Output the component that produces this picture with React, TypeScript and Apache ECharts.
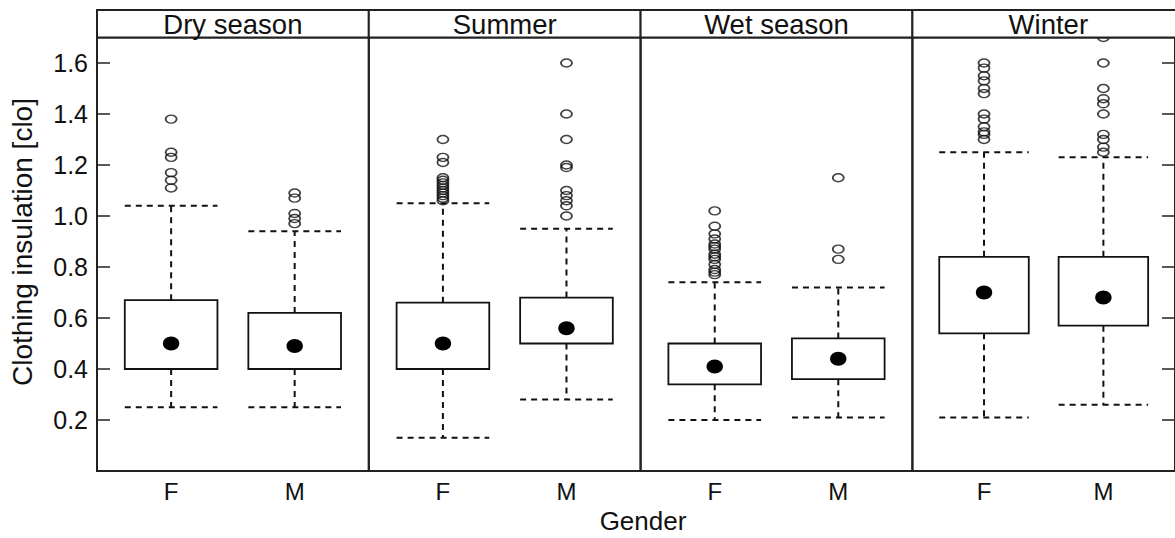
import React, { useEffect, useRef } from "react";
import * as echarts from "echarts";

// ---- data ----
const seasons = ["Dry season", "Summer", "Wet season", "Winter"];
const genders = ["F", "M"];
const yTickValues = [0.2, 0.4, 0.6, 0.8, 1.0, 1.2, 1.4, 1.6];

// per season: [F, M]
const whiskerLow = [[0.25, 0.25], [0.13, 0.28], [0.20, 0.21], [0.21, 0.26]];
const lowerQuartile = [[0.40, 0.40], [0.40, 0.50], [0.34, 0.36], [0.54, 0.57]];
const medians = [[0.50, 0.49], [0.50, 0.56], [0.41, 0.44], [0.70, 0.68]];
const upperQuartile = [[0.67, 0.62], [0.66, 0.68], [0.50, 0.52], [0.84, 0.84]];
const whiskerHigh = [[1.04, 0.94], [1.05, 0.95], [0.74, 0.72], [1.25, 1.23]];

const outliersDryF = [1.38, 1.25, 1.23, 1.17, 1.14, 1.11];
const outliersDryM = [1.09, 1.07, 1.01, 0.99, 0.97];
const outliersSummerF = [1.30, 1.23, 1.21, 1.15, 1.14, 1.13, 1.12, 1.11, 1.10, 1.09, 1.08, 1.07, 1.06];
const outliersSummerM = [1.60, 1.40, 1.30, 1.20, 1.19, 1.10, 1.08, 1.06, 1.04, 1.00];
const outliersWetF = [1.02, 0.96, 0.93, 0.91, 0.89, 0.88, 0.87, 0.85, 0.84, 0.83, 0.81, 0.79, 0.78, 0.77];
const outliersWetM = [1.15, 0.87, 0.83];
const outliersWinterF = [1.60, 1.58, 1.55, 1.53, 1.50, 1.48, 1.40, 1.38, 1.35, 1.33, 1.32, 1.30];
const outliersWinterM = [1.70, 1.60, 1.50, 1.46, 1.44, 1.40, 1.32, 1.30, 1.27, 1.25];
const outliers = [
  [outliersDryF, outliersDryM],
  [outliersSummerF, outliersSummerM],
  [outliersWetF, outliersWetM],
  [outliersWinterF, outliersWinterM],
];

// ---- layout ----
const W = 1175;
const H = 538;
const PANEL_LEFT = 97;
const PANEL_W = 271.8;
const STRIP_TOP = 10;
const PANEL_TOP = 37.5;
const PANEL_BOTTOM = 471;
const Y_MIN = 0;
const Y_MAX = 1.7;
const FONT = "'Liberation Sans', Arial, Helvetica, sans-serif";
const INK = "#111";
const BOX_WIDTH = 0.75; // in category units

export default function App() {
  const ref = useRef<HTMLDivElement>(null);

  useEffect(() => {
    if (!ref.current) return;
    const chart = echarts.init(ref.current, undefined, { renderer: "svg", width: W, height: H });

    const grids: any[] = [];
    const xAxes: any[] = [];
    const yAxes: any[] = [];
    const series: any[] = [];
    const graphics: any[] = [];

    seasons.forEach((season, p) => {
      const left = PANEL_LEFT + p * PANEL_W;
      grids.push({
        left,
        top: PANEL_TOP,
        width: PANEL_W,
        height: PANEL_BOTTOM - PANEL_TOP,
        show: true,
        borderColor: "#222",
        borderWidth: 2,
        backgroundColor: "transparent",
        containLabel: false,
      });
      xAxes.push({
        type: "value",
        gridIndex: p,
        min: 0.4,
        max: 2.6,
        axisLine: { show: false },
        axisTick: { show: false },
        splitLine: { show: false },
        axisLabel: {
          customValues: [1, 2],
          formatter: (v: number) => genders[Math.round(v) - 1] ?? "",
          fontSize: 24,
          fontFamily: FONT,
          color: INK,
          margin: 8,
        },
      });
      yAxes.push({
        type: "value",
        gridIndex: p,
        min: Y_MIN,
        max: Y_MAX,
        position: p === 3 ? "right" : "left",
        axisLine: { show: false },
        splitLine: { show: false },
        axisTick: {
          show: p === 0 || p === 3,
          inside: true,
          length: 13,
          customValues: yTickValues,
          lineStyle: { color: "#222", width: 1.5 },
        },
        axisLabel: {
          show: p === 0,
          customValues: yTickValues,
          formatter: (v: number) => v.toFixed(1),
          fontSize: 25,
          fontFamily: FONT,
          color: INK,
          margin: 9,
        },
      });

      const boxData = genders.map((g, gi) => [
        gi + 1,
        whiskerLow[p][gi],
        lowerQuartile[p][gi],
        medians[p][gi],
        upperQuartile[p][gi],
        whiskerHigh[p][gi],
      ]);

      series.push({
        type: "custom",
        xAxisIndex: p,
        yAxisIndex: p,
        data: boxData,
        encode: { x: 0, y: [1, 2, 3, 4, 5] },
        z: 3,
        renderItem: (params: any, api: any) => {
          const x = api.value(0);
          const lo = api.coord([x, api.value(1)]);
          const bq1 = api.coord([x, api.value(2)]);
          const med = api.coord([x, api.value(3)]);
          const bq3 = api.coord([x, api.value(4)]);
          const hi = api.coord([x, api.value(5)]);
          const bw = api.size([BOX_WIDTH, 0])[0];
          const cx = lo[0];
          const dash = { stroke: INK, lineWidth: 2, lineDash: [6, 5], fill: null };
          return {
            type: "group",
            children: [
              { type: "line", shape: { x1: cx, y1: bq3[1], x2: cx, y2: hi[1] }, style: dash },
              { type: "line", shape: { x1: cx, y1: bq1[1], x2: cx, y2: lo[1] }, style: dash },
              { type: "line", shape: { x1: cx - bw / 2, y1: hi[1], x2: cx + bw / 2, y2: hi[1] }, style: dash },
              { type: "line", shape: { x1: cx - bw / 2, y1: lo[1], x2: cx + bw / 2, y2: lo[1] }, style: dash },
              {
                type: "rect",
                shape: { x: cx - bw / 2, y: bq3[1], width: bw, height: bq1[1] - bq3[1] },
                style: { fill: "#fff", stroke: INK, lineWidth: 1.8 },
              },
              {
                type: "ellipse",
                shape: { cx, cy: med[1], rx: 8.2, ry: 7 },
                style: { fill: "#000" },
              },
            ],
          };
        },
      });

      const outData: number[][] = [];
      genders.forEach((g, gi) => {
        outliers[p][gi].forEach((v) => outData.push([gi + 1, v]));
      });
      series.push({
        type: "scatter",
        xAxisIndex: p,
        yAxisIndex: p,
        data: outData,
        z: 4,
        clip: false,
        symbol: "path://M0,50 A50,50 0 1,1 100,50 A50,50 0 1,1 0,50 Z",
        symbolSize: [11, 8],
        itemStyle: { color: "rgba(0,0,0,0)", borderColor: INK, borderWidth: 1.6 },
      });

      graphics.push({
        type: "rect",
        z: 100,
        shape: { x: left, y: STRIP_TOP, width: PANEL_W, height: PANEL_TOP - STRIP_TOP },
        style: { fill: "#fff", stroke: "#222", lineWidth: 2 },
      });
      graphics.push({
        type: "text",
        z: 101,
        x: left + PANEL_W / 2,
        y: (STRIP_TOP + PANEL_TOP) / 2 + 1,
        style: {
          text: season,
          fontSize: 27.5,
          fontFamily: FONT,
          fill: INK,
          align: "center",
          verticalAlign: "middle",
        },
      });
    });

    graphics.push({
      type: "text",
      z: 101,
      x: 22,
      y: 242,
      rotation: Math.PI / 2,
      style: {
        text: "Clothing insulation [clo]",
        fontSize: 28,
        fontFamily: FONT,
        fill: INK,
        align: "center",
        verticalAlign: "middle",
      },
    });
    graphics.push({
      type: "text",
      z: 101,
      x: 643,
      y: 521,
      style: {
        text: "Gender",
        fontSize: 26,
        fontFamily: FONT,
        fill: INK,
        align: "center",
        verticalAlign: "middle",
      },
    });

    chart.setOption({
      animation: false,
      backgroundColor: "#fff",
      grid: grids,
      xAxis: xAxes,
      yAxis: yAxes,
      series,
      graphic: graphics,
    });

    return () => chart.dispose();
  }, []);

  return (
    <div
      ref={ref}
      style={{ position: "absolute", left: 0, top: 0, width: W, height: H, background: "#fff" }}
    />
  );
}
